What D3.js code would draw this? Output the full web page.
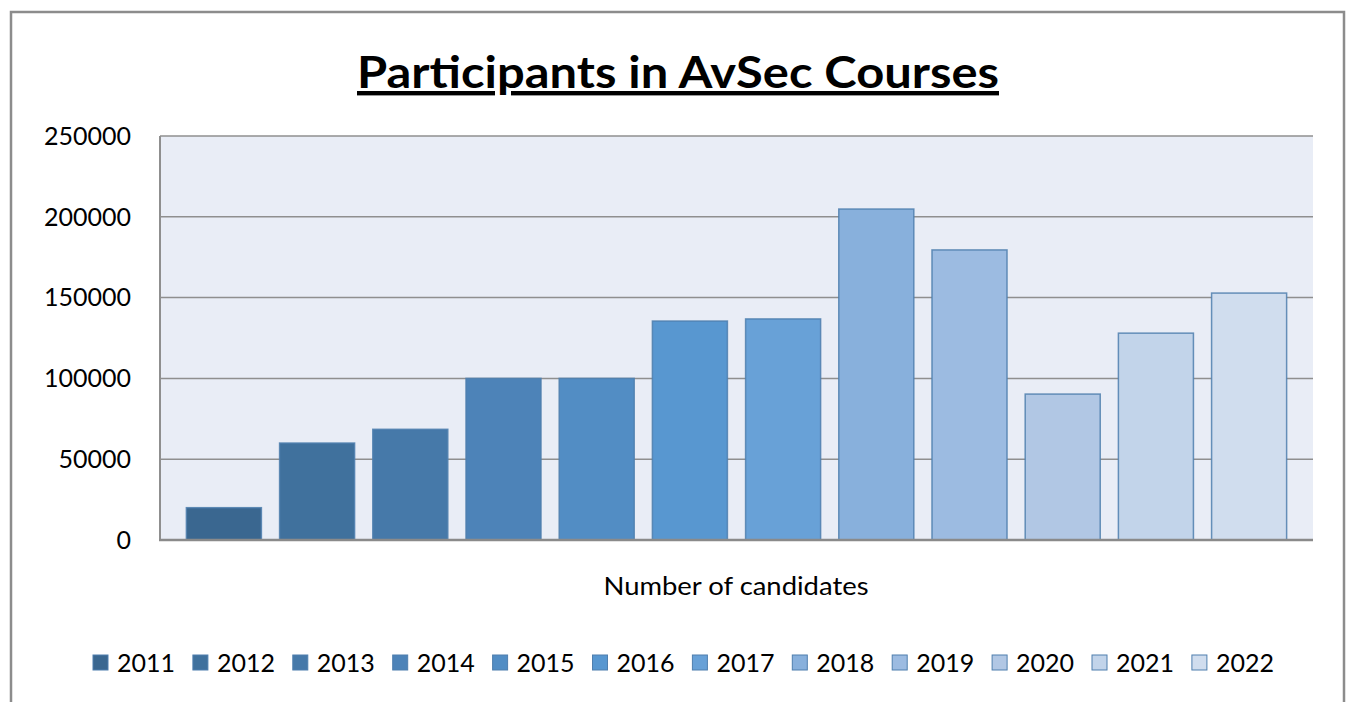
<!DOCTYPE html>
<html>
<head>
<meta charset="utf-8">
<script src="https://cdn.jsdelivr.net/npm/d3@7"></script>
<style>
  body { margin: 0; background: #fff; }
  text { font-family: Lato, "Open Sans", sans-serif; fill: #000; }
</style>
</head>
<body>
<svg id="chart" width="1346" height="702"></svg>
<script>
// chart data
const years = ["2011", "2012", "2013", "2014", "2015", "2016", "2017", "2018", "2019", "2020", "2021", "2022"];
const participants = [20000, 60000, 68500, 100000, 100000, 135500, 136800, 204800, 179500, 90300, 128000, 152800];
const barColors = ["#3a6790", "#40719d", "#4679a9", "#4d83b8", "#528dc4", "#5897d0", "#68a1d7", "#88b0dc", "#9cbbe1", "#b1c7e4", "#c2d4ea", "#d0ddee"];
const yTicks = [0, 50000, 100000, 150000, 200000, 250000];

const svg = d3.select("svg#chart");
const plot = { left: 160, right: 1313, top: 136, bottom: 540 };

// outer frame (bottom cut off)
svg.append("path")
  .attr("d", "M11,702 V12 H1344 V702")
  .attr("fill", "none")
  .attr("stroke", "#8c8c8c")
  .attr("stroke-width", 2.5);

// title
svg.append("text")
  .attr("x", 678)
  .attr("y", 88)
  .attr("text-anchor", "middle")
  .style("font-size", "44px")
  .style("font-weight", "bold")
  .style("text-decoration", "underline")
  .attr("textLength", 642)
  .attr("lengthAdjust", "spacingAndGlyphs")
  .text("Participants in AvSec Courses");

const y = d3.scaleLinear().domain([0, 250000]).range([plot.bottom, plot.top]);
const x = d3.scaleBand().domain(years)
  .range([plot.left, plot.right])
  .paddingInner(0.195)
  .paddingOuter(0.283);

// plot background
svg.append("rect")
  .attr("x", plot.left).attr("y", plot.top)
  .attr("width", plot.right - plot.left).attr("height", plot.bottom - plot.top)
  .attr("fill", "#e9edf6");

// gridlines
svg.selectAll("line.grid").data(yTicks.slice(1))
  .join("line")
  .attr("class", "grid")
  .attr("x1", plot.left).attr("x2", plot.right)
  .attr("y1", d => y(d)).attr("y2", d => y(d))
  .attr("stroke", "#8f8f8f")
  .attr("stroke-width", 1.5);

// y axis labels
svg.selectAll("text.ytick").data(yTicks)
  .join("text")
  .attr("class", "ytick")
  .attr("x", 131)
  .attr("y", d => y(d))
  .attr("dy", "0.35em")
  .attr("text-anchor", "end")
  .style("font-size", "25px")
  .text(d => d);

// bars
svg.selectAll("rect.bar").data(years)
  .join("rect")
  .attr("class", "bar")
  .attr("x", d => x(d))
  .attr("width", x.bandwidth())
  .attr("y", (d, i) => y(participants[i]))
  .attr("height", (d, i) => y(0) - y(participants[i]))
  .attr("fill", (d, i) => barColors[i])
  .attr("stroke", "#4f7fae")
  .attr("stroke-opacity", 0.85)
  .attr("stroke-width", 1.5);

// axis lines
svg.append("line")
  .attr("x1", plot.left).attr("x2", plot.left)
  .attr("y1", plot.top).attr("y2", plot.bottom)
  .attr("stroke", "#8f8f8f").attr("stroke-width", 2);
svg.append("line")
  .attr("x1", plot.left - 1).attr("x2", plot.right)
  .attr("y1", plot.bottom).attr("y2", plot.bottom)
  .attr("stroke", "#8a8a8a").attr("stroke-width", 2.5);

// category label
svg.append("text")
  .attr("x", 736)
  .attr("y", 595)
  .attr("text-anchor", "middle")
  .style("font-size", "25px")
  .attr("textLength", 265)
  .attr("lengthAdjust", "spacingAndGlyphs")
  .text("Number of candidates");

// legend
const legend = svg.append("g");
const legendItems = legend.selectAll("g").data(years)
  .join("g")
  .attr("transform", (d, i) => `translate(${93 + i * 99.9},655)`);
legendItems.append("rect")
  .attr("width", 15).attr("height", 15)
  .attr("fill", (d, i) => barColors[i])
  .attr("stroke", "#4f7fae")
  .attr("stroke-width", 1);
legendItems.append("text")
  .attr("x", 24)
  .attr("y", 17)
  .style("font-size", "25px")
  .text(d => d);
</script>
</body>
</html>
